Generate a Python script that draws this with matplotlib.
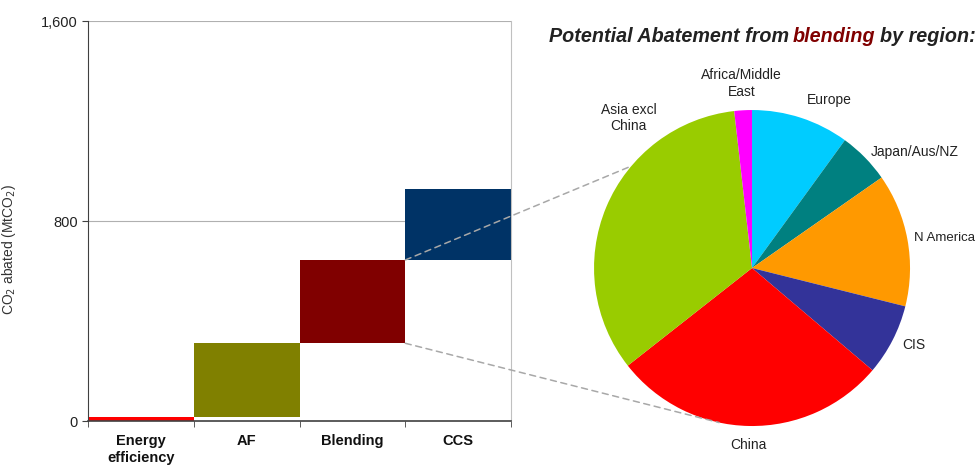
import numpy as np
import matplotlib
matplotlib.use("Agg")
import matplotlib.pyplot as plt
from matplotlib.patches import ConnectionPatch
from matplotlib.transforms import IdentityTransform

plt.rcParams['font.family'] = ['Liberation Sans', 'DejaVu Sans']

# waterfall data (MtCO2)
levers = ["Energy\nefficiency", "AF", "Blending", "CCS"]
abated = [15, 296, 333, 284]
lever_colors = ["#ff0000", "#808000", "#800000", "#003366"]

# blending split by region (%), clockwise from 12 o'clock
regions = ["Europe", "Japan/Aus/NZ", "N America", "CIS", "China",
           "Asia excl\nChina", "Africa/Middle\nEast"]
shares = [10.0, 5.3, 13.6, 7.3, 28.2, 33.8, 1.8]
region_colors = ["#00ccff", "#008080", "#ff9900", "#333399", "#ff0000",
                 "#99cc00", "#ff00ff"]

fig = plt.figure(figsize=(9.78, 4.68), dpi=100)

# ---- waterfall ----
ax = fig.add_axes([0.09, 0.1004, 0.4325, 0.8547])
x = np.arange(len(levers))
bottoms = np.concatenate([[0], np.cumsum(abated)[:-1]])
ax.bar(x, abated, bottom=bottoms, width=1.0, color=lever_colors,
       edgecolor="none", zorder=2)
ax.set_xlim(-0.5, len(levers) - 0.5)
ax.set_ylim(0, 1600)
ax.set_yticks([0, 800, 1600])
ax.set_yticklabels(["0", "800", "1,600"], fontsize=10.5, color="#222222")
ax.yaxis.grid(True, color="#b0b0b0", lw=0.8, zorder=0)
ax.set_xticks(x)
ax.set_xticklabels(levers, fontsize=10.5, fontweight="bold", color="#111111",
                   linespacing=1.35)
ax.tick_params(axis="x", which="major", length=0, pad=9)
ax.set_xticks(np.arange(-0.5, len(levers)), minor=True)
ax.tick_params(axis="x", which="minor", length=4, color="#404040")
ax.tick_params(axis="y", length=4, color="#404040")
ax.spines["left"].set_color("#404040")
ax.spines["bottom"].set_color("#404040")
ax.spines["bottom"].set_linewidth(1.2)
ax.spines["right"].set_color("#c0c0c0")
ax.spines["top"].set_visible(False)
ax.set_ylabel("CO$_2$ abated (MtCO$_2$)", fontsize=10, color="#333333")
ax.yaxis.set_label_coords(-0.165, 0.43)

# ---- pie ----
pax = fig.add_axes([0.567, 0.0053, 0.4039, 0.844])
wedges, texts = pax.pie(shares, colors=region_colors, startangle=90,
                        counterclock=False, labels=regions,
                        textprops=dict(fontsize=10, color="#222222"))
pax.set_aspect("equal")

# label placement roughly as in the original (distance from centre in radii)
label_dist = [1.12, 1.05, 1.04, 1.07, 1.12, 1.12, 1.17]
for w, t, d in zip(wedges, texts, label_dist):
    mid = np.deg2rad((w.theta1 + w.theta2) / 2)
    t.set_position((d * np.cos(mid), d * np.sin(mid)))
    if abs(np.cos(mid)) < 0.2:
        t.set_ha("center")
texts[5].set_position((-0.78, 0.95))  # Asia label sits up by the rim
texts[5].set_ha("center")
texts[2].set_fontsize(9.5)

# dashed connectors from the blending block to the pie
blend_top = bottoms[2] + abated[2]
blend_bot = bottoms[2]
for yb, ang in [(blend_top, 139.8), (blend_bot, 258.0)]:
    a = np.deg2rad(ang)
    con = ConnectionPatch(xyA=(2.5, yb), coordsA=ax.transData,
                          xyB=(np.cos(a), np.sin(a)), coordsB=pax.transData,
                          linestyle=(0, (4, 3)), color="#a8a8a8", lw=1.1,
                          zorder=5)
    fig.add_artist(con)

# title with coloured word
tkw = dict(fontsize=14.2, fontweight="bold", fontstyle="italic",
           ha="left", va="baseline", transform=IdentityTransform())
base_y = 468 - 42
parts = [("Potential Abatement from", "#222222"), ("blending", "#800000"),
         ("by region:", "#222222")]
xpos = 549
for txt, col in parts:
    t = fig.text(xpos, base_y, txt, color=col, **tkw)
    fig.canvas.draw()
    xpos = t.get_window_extent().x1 + 4

fig.savefig("out.png", dpi=100)
